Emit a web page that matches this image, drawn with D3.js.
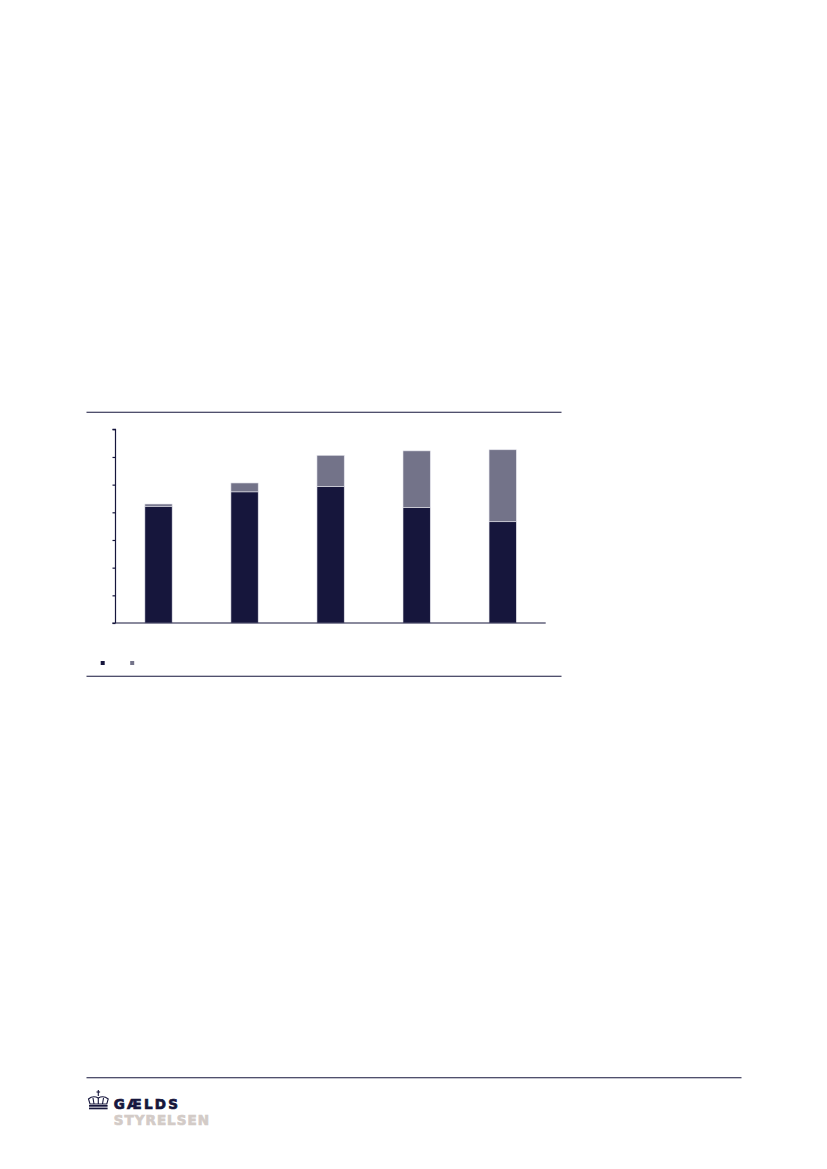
<!DOCTYPE html>
<html>
<head>
<meta charset="utf-8">
<script src="https://cdn.jsdelivr.net/npm/d3@7"></script>
<style>
  html, body { margin: 0; padding: 0; background: #ffffff; }
  svg { display: block; }
</style>
</head>
<body>
<svg id="page" width="827" height="1169"></svg>
<script>
// ---- data ----
const categories = ["2019", "2020", "2021", "2022", "2023"];
const seriesNames = ["Serie 1", "Serie 2"];
const darkValues = [211, 237, 247, 209, 183];
const lightValues = [4, 16, 56, 102, 130];
const yTicks = [0, 50, 100, 150, 200, 250, 300, 350];
const logoLines = ["GÆLDS", "STYRELSEN"];

const colors = ["#16163c", "#737389"];
const navy = "#16163c";
const logoColors = [navy, "#d3cbc7"];

const svg = d3.select("#page");

// horizontal rules framing the chart
svg.append("line").attr("x1", 86.5).attr("x2", 561.5).attr("y1", 412.3).attr("y2", 412.3)
  .attr("stroke", navy).attr("stroke-width", 1.1);
svg.append("line").attr("x1", 86.5).attr("x2", 561.5).attr("y1", 676.3).attr("y2", 676.3)
  .attr("stroke", navy).attr("stroke-width", 1.1);

// plot area
const x0 = 115.5, x1 = 545.7, yBottom = 623, yTop = 429.3;
const x = d3.scaleBand().domain(categories).range([x0, x1]).paddingInner(0.683).paddingOuter(0.3415);
const y = d3.scaleLinear().domain([0, 350]).range([yBottom, yTop]);

const rows = categories.map((c, i) => ({ cat: c, s0: darkValues[i], s1: lightValues[i] }));
const stack = d3.stack().keys(["s0", "s1"])(rows);

const g = svg.append("g");
g.selectAll("g.layer").data(stack).join("g")
  .attr("class", "layer")
  .attr("fill", (d, i) => colors[i])
  .selectAll("rect").data(d => d).join("rect")
  .attr("x", d => x(d.data.cat))
  .attr("width", x.bandwidth())
  .attr("y", d => y(d[1]))
  .attr("height", d => y(d[0]) - y(d[1]))
  .attr("stroke", "#e4e4ec")
  .attr("stroke-width", 0.6);

// y axis (ticks, no labels)
const yAxis = d3.axisLeft(y).tickValues(yTicks).tickSize(3).tickFormat("");
const ya = svg.append("g").attr("transform", `translate(${x0},0)`).call(yAxis);
ya.select(".domain").attr("stroke", navy).attr("stroke-width", 1.2).attr("d", `M-3,${yTop}H0V${yBottom}`);
ya.selectAll(".tick line").attr("stroke", navy).attr("stroke-width", 1.2);

// x axis baseline
svg.append("line").attr("x1", 112.3).attr("x2", x1).attr("y1", yBottom).attr("y2", yBottom)
  .attr("stroke", navy).attr("stroke-width", 1.2);

// legend swatches
const legendX = [100.7, 130.2];
svg.selectAll("rect.legend").data(seriesNames).join("rect")
  .attr("class", "legend")
  .attr("x", (d, i) => legendX[i]).attr("y", 661)
  .attr("width", 4).attr("height", 4)
  .attr("fill", (d, i) => colors[i]);

// footer rule
svg.append("line").attr("x1", 86.5).attr("x2", 741.5).attr("y1", 1077.8).attr("y2", 1077.8)
  .attr("stroke", navy).attr("stroke-width", 1.1);

// logo: crown
const crown = svg.append("g").attr("fill", "none").attr("stroke", navy).attr("stroke-width", 1.1);
crown.append("line").attr("x1", 98.3).attr("x2", 98.3).attr("y1", 1090).attr("y2", 1096);
crown.append("line").attr("x1", 96.5).attr("x2", 100.1).attr("y1", 1092).attr("y2", 1092);
crown.append("path").attr("d", "M88.5,1099 Q93,1095 98.3,1098 Q103.5,1095 108.2,1099 L106.8,1104 L90,1104 Z");
crown.append("path").attr("d", "M93,1098 L94,1104 M98.3,1098 L98.3,1104 M103.5,1098 L102.5,1104");
svg.append("rect").attr("x", 89).attr("y", 1105).attr("width", 18.6).attr("height", 1.7).attr("fill", navy);
svg.append("rect").attr("x", 89).attr("y", 1107.6).attr("width", 18.6).attr("height", 1.7).attr("fill", navy);

// logo: text (two lines)
svg.selectAll("text.logo").data(logoLines).join("text")
  .attr("class", "logo")
  .attr("font-family", "DejaVu Sans").attr("font-weight", "bold").attr("font-size", 13.5)
  .attr("x", 113.8)
  .attr("y", (d, i) => i === 0 ? 1108.8 : 1124.7)
  .attr("letter-spacing", (d, i) => i === 0 ? 2.2 : 1.0)
  .attr("fill", (d, i) => logoColors[i])
  .attr("stroke", (d, i) => logoColors[i])
  .attr("stroke-width", 0.7)
  .text(d => d);
</script>
</body>
</html>
